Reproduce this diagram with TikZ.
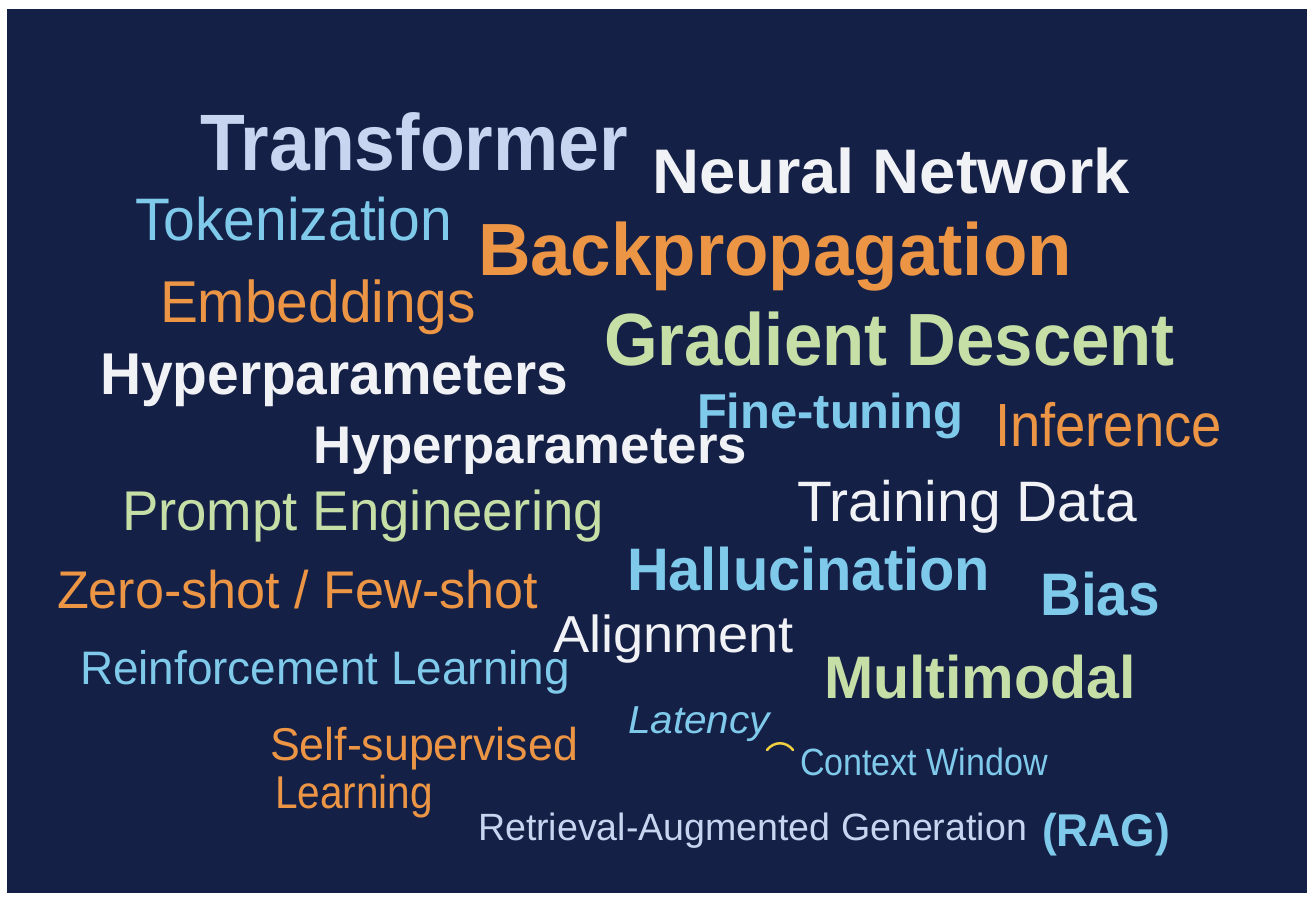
\documentclass[tikz,border=0pt]{standalone}
\usepackage{fontspec}
\setmainfont{Liberation Sans}
\usepackage{graphicx}
\definecolor{navy}{HTML}{152047}
\definecolor{lav}{HTML}{C8D5F0}
\definecolor{snow}{HTML}{F1F2F5}
\definecolor{sky}{HTML}{7FCAEA}
\definecolor{amber}{HTML}{EB9545}
\definecolor{sage}{HTML}{C6DFA6}
\definecolor{glow}{HTML}{F0D040}
% a word stretched to a given width: {width}{size}{font switches}{text}
\newcommand\cloudword[4]{\resizebox{#1pt}{\height}{\fontsize{#2pt}{#2pt}\selectfont#3#4}}
\begin{document}
\begin{tikzpicture}[x=1pt,y=-1pt,
  word/.style={anchor=base west, inner sep=0pt, outer sep=0pt}]
\useasboundingbox (0,0) rectangle (1307,897);
\fill[white] (0,0) rectangle (1307,897);
\fill[navy] (7,9) rectangle (1307,893);

\node[word, text=lav]   (transformer) at (200,170) {\cloudword{428}{80}{\bfseries}{Transformer}};
\node[word, text=snow]  (neural)      at (652,193) {\cloudword{478}{63}{\bfseries}{Neural Network}};
\node[word, text=sky]   (token)       at (135,240) {\cloudword{317}{60}{}{Tokenization}};
\node[word, text=amber] (backprop)    at (478,275) {\cloudword{594}{74}{\bfseries}{Backpropagation}};
\node[word, text=amber] (embed)       at (160,322) {\cloudword{316}{59}{}{Embeddings}};
\node[word, text=sage]  (gradient)    at (604,365) {\cloudword{571}{74}{\bfseries}{Gradient Descent}};
\node[word, text=snow]  (hyperA)      at (100,394) {\cloudword{468}{59}{\bfseries}{Hyperparameters}};
\node[word, text=sky]   (finetune)    at (697,428) {\cloudword{266}{49}{\bfseries}{Fine-tuning}};
\node[word, text=amber] (inference)   at (995,446) {\cloudword{227}{61}{}{Inference}};
\node[word, text=snow]  (hyperB)      at (313,463) {\cloudword{434}{53}{\bfseries}{Hyperparameters}};
\node[word, text=sage]  (prompt)      at (122,530) {\cloudword{482}{56}{}{Prompt Engineering}};
\node[word, text=snow]  (training)    at (797,521) {\cloudword{340}{57}{}{Training Data}};
\node[word, text=sky]   (halluc)      at (627,590) {\cloudword{363}{60}{\bfseries}{Hallucination}};
\node[word, text=sky]   (bias)        at (1040,615) {\cloudword{120}{60}{\bfseries}{Bias}};
\node[word, text=amber] (shot)        at (57,608) {\cloudword{481}{53}{}{Zero-shot / Few-shot}};
\node[word, text=snow]  (align)       at (553,652) {\cloudword{241}{52}{}{Alignment}};
\node[word, text=sky]   (reinforce)   at (80,684) {\cloudword{490}{47}{}{Reinforcement Learning}};
\node[word, text=sage]  (multi)       at (824,698) {\cloudword{312}{60}{\bfseries}{Multimodal}};
\node[word, text=sky]   (latency)     at (628,733) {\cloudword{142}{39}{\itshape}{Latency}};
\node[word, text=sky]   (context)     at (800,775) {\cloudword{248}{38}{}{Context Window}};
\node[word, text=amber] (selfsup)     at (270,760) {\cloudword{308}{46}{}{Self-supervised}};
\node[word, text=amber] (learning)    at (275,808) {\cloudword{158}{46}{}{Learning}};
\node[word, text=lav]   (retrieval)   at (478,840) {\cloudword{549}{38}{}{Retrieval-Augmented Generation}};
\node[word, text=sky]   (rag)         at (1042,846) {\cloudword{128}{46}{\bfseries}{(RAG)}};

% small highlight stroke beside the context window label
\draw[glow, line width=2.5pt, line cap=round]
  (767,750) .. controls (774,741) and (786,741) .. (793,750);
\end{tikzpicture}
\end{document}
